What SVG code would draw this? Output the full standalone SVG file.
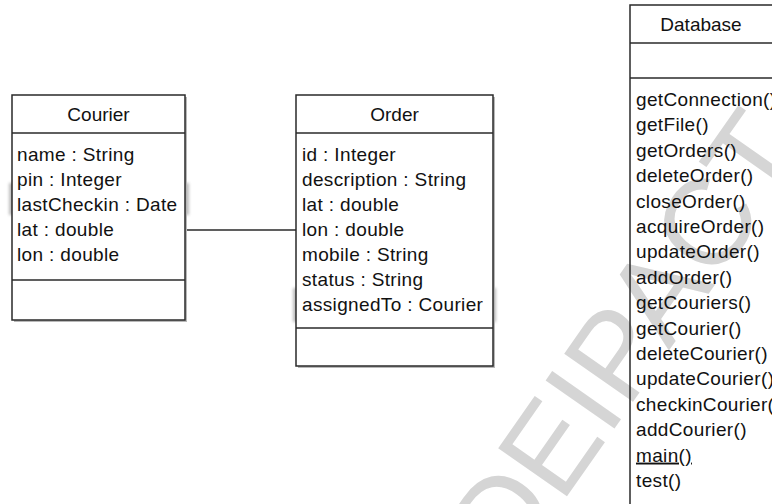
<svg xmlns="http://www.w3.org/2000/svg" width="772" height="504" viewBox="0 0 772 504">
  <style>
    .box { fill: #ffffff; stroke: #2a2a2a; stroke-width: 1.5; }
    .open { fill: none; stroke: #2a2a2a; stroke-width: 1.5; }
    .shadow { fill: #b8b8b8; }
    .sep { stroke: #2a2a2a; stroke-width: 1.5; }
    .t { font-family: "Liberation Sans", Arial, sans-serif; font-size: 19px; letter-spacing: 0.35px; fill: #111111; }
    .title { text-anchor: middle; letter-spacing: 0; }
    .u { text-decoration: underline; }
    .wm { font-family: "Liberation Sans", Arial, sans-serif; font-size: 122px; fill: #d5d5d5; }
    .ghost { fill: #bdbdbd; filter: url(#soft); }
    .link { stroke: #2a2a2a; stroke-width: 1.5; fill: none; }
  </style>
  <defs>
    <filter id="soft" x="-50%" y="-20%" width="200%" height="140%">
      <feGaussianBlur stdDeviation="1.4"/>
    </filter>
  </defs>

  <rect width="772" height="504" fill="#ffffff"/>

  <!-- diagonal watermark -->
  <text class="wm" transform="translate(510.7,576.6) rotate(-55)" x="0" y="0">DEIPACT</text>

  <!-- soft marks peeking out behind the class boxes -->
  <rect class="ghost" x="9" y="183" width="5" height="32"/>
  <rect class="ghost" x="184" y="183" width="5" height="32"/>
  <rect class="ghost" x="293" y="288" width="5" height="34"/>
  <rect class="ghost" x="491" y="288" width="5" height="34"/>

  <!-- association between Courier and Order -->
  <g id="connectors">
    <line class="link" x1="185" y1="230" x2="296" y2="230"/>
  </g>

  <g id="courier">
    <rect class="shadow" x="14" y="97" width="173" height="225"/>
    <rect class="box" x="12" y="95" width="173" height="225"/>
    <line class="sep" x1="12" y1="133" x2="185" y2="133"/>
    <line class="sep" x1="12" y1="280" x2="185" y2="280"/>
    <text class="t title" x="98.5" y="121">Courier</text>
    <text class="t" x="17" y="161">name : String</text>
    <text class="t" x="17" y="186">pin : Integer</text>
    <text class="t" x="17" y="211">lastCheckin : Date</text>
    <text class="t" x="17" y="236">lat : double</text>
    <text class="t" x="17" y="261">lon : double</text>
  </g>

  <g id="order">
    <rect class="shadow" x="298" y="97" width="197" height="271"/>
    <rect class="box" x="296" y="95" width="197" height="271"/>
    <line class="sep" x1="296" y1="133" x2="493" y2="133"/>
    <line class="sep" x1="296" y1="328" x2="493" y2="328"/>
    <text class="t title" x="394.5" y="121">Order</text>
    <text class="t" x="302" y="161">id : Integer</text>
    <text class="t" x="302" y="186">description : String</text>
    <text class="t" x="302" y="211">lat : double</text>
    <text class="t" x="302" y="236">lon : double</text>
    <text class="t" x="302" y="261">mobile : String</text>
    <text class="t" x="302" y="286">status : String</text>
    <text class="t" x="302" y="311">assignedTo : Courier</text>
  </g>

  <g id="database">
    <rect class="open" x="630" y="5" width="160" height="520"/>
    <line class="sep" x1="630" y1="43" x2="790" y2="43"/>
    <line class="sep" x1="630" y1="78" x2="790" y2="78"/>
    <text class="t title" x="701" y="31">Database</text>
    <text class="t" x="636" y="106">getConnection()</text>
    <text class="t" x="636" y="131.4">getFile()</text>
    <text class="t" x="636" y="156.8">getOrders()</text>
    <text class="t" x="636" y="182.2">deleteOrder()</text>
    <text class="t" x="636" y="207.6">closeOrder()</text>
    <text class="t" x="636" y="233">acquireOrder()</text>
    <text class="t" x="636" y="258.4">updateOrder()</text>
    <text class="t" x="636" y="283.8">addOrder()</text>
    <text class="t" x="636" y="309.2">getCouriers()</text>
    <text class="t" x="636" y="334.6">getCourier()</text>
    <text class="t" x="636" y="360">deleteCourier()</text>
    <text class="t" x="636" y="385.4">updateCourier()</text>
    <text class="t" x="636" y="410.8">checkinCourier()</text>
    <text class="t" x="636" y="436.2">addCourier()</text>
    <text class="t u" x="636" y="461.6">main()</text>
    <text class="t" x="636" y="487">test()</text>
  </g>
</svg>
